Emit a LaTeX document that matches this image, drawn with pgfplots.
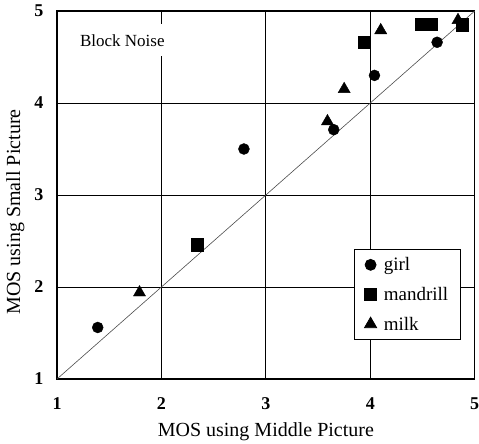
\documentclass[border=0pt]{standalone}
\usepackage{pgfplots}
\pgfplotsset{compat=1.18}
\usepackage{fontspec}
\setmainfont{Liberation Serif}
\begin{document}
\begin{tikzpicture}
\begin{axis}[
 scale only axis, width=417.7pt, height=368pt,
 xmin=1,xmax=5,ymin=1,ymax=5,
 xtick={1,2,3,4,5}, ytick={1,2,3,4,5},
 grid=major, grid style={black, line width=0.8pt},
 axis line style={line width=1.2pt},
 tick style={draw=none},
 /pgf/number format/assume math mode=true,
 ticklabel style={font=\fontsize{18}{18}\selectfont\bfseries},
 xticklabel style={yshift=-15pt},
 yticklabel style={xshift=-10pt},
 xlabel={MOS using Middle Picture}, ylabel={MOS using Small Picture},
 label style={font=\fontsize{20}{20}\selectfont},
 xlabel style={at={(axis description cs:0.5,-0.144)}, anchor=center},
 ylabel style={at={(axis description cs:-0.1,0.454)}, anchor=center},
 legend style={at={(rel axis cs:0.711,0.353)}, anchor=north west, draw=black, line width=0.8pt,
   font=\fontsize{19}{19}\selectfont, row sep=11pt, column sep=5pt, inner xsep=10pt, inner ysep=6pt},
 legend cell align=left,
 clip=false,
]
\addplot[gray!60!black, line width=0.6pt, forget plot] coordinates {(1,1)(5,5)};
\addplot[only marks, mark=*, mark size=5.5pt, black] coordinates {
 (1.39,1.56) (2.79,3.50) (3.65,3.71) (4.04,4.30) (4.64,4.66)};
\addlegendentry{girl}
\addplot[only marks, mark=square*, mark size=6.2pt, black] coordinates {
 (2.34,2.46) (3.94,4.66) (4.49,4.855) (4.58,4.855) (4.88,4.85)};
\addlegendentry{mandrill}
\addplot[only marks, mark=triangle*, mark size=7pt, black] coordinates {
 (1.79,1.94) (3.59,3.80) (3.75,4.15) (4.10,4.79) (4.84,4.90)};
\addlegendentry{milk}
\node[fill=white, anchor=west, font=\fontsize{17}{17}\selectfont, inner xsep=2pt, minimum height=32pt] at (axis cs:1.2,4.68) {Block Noise};
\coordinate (ll) at (rel axis cs:0,0);
\coordinate (ur) at (rel axis cs:1,1);
\end{axis}
\pgfresetboundingbox
\path[use as bounding box] ([shift={(-57pt,-64pt)}]ll) rectangle ([shift={(4.3pt,11pt)}]ur);
\end{tikzpicture}
\end{document}
